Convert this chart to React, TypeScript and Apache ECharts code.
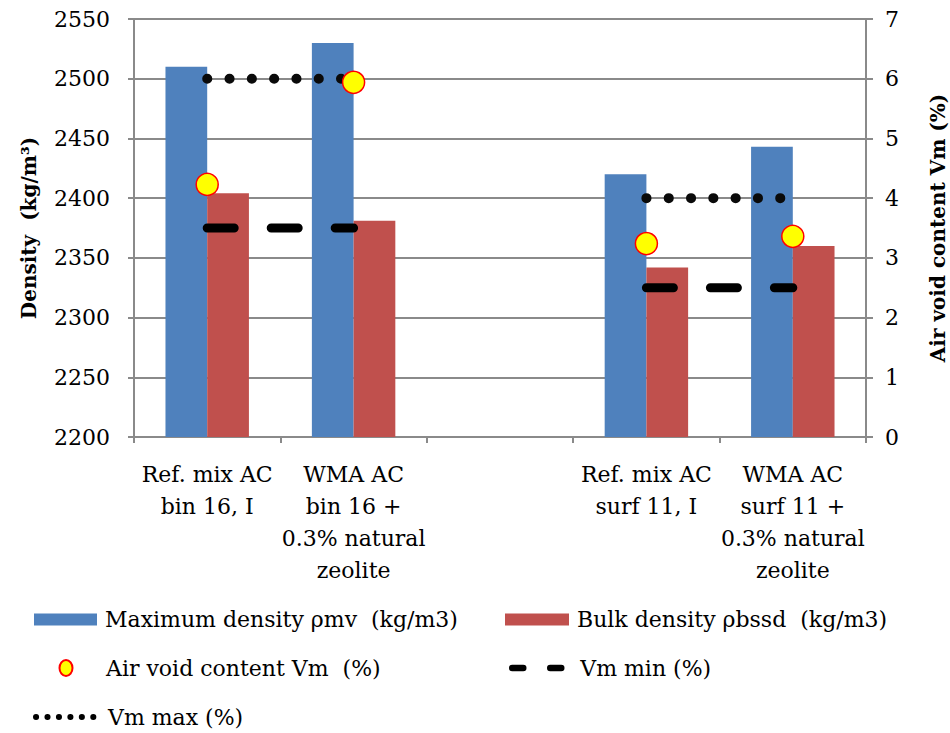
import React, { useEffect, useRef } from "react";
import * as echarts from "echarts";

// Mixes (the empty slot separates the binder-course and surface-course groups)
const categories = [
  "Ref. mix AC\nbin 16, I",
  "WMA AC\nbin 16 +\n0.3% natural\nzeolite",
  "",
  "Ref. mix AC\nsurf 11, I",
  "WMA AC\nsurf 11 +\n0.3% natural\nzeolite",
];

// Densities, kg/m3 (left axis)
const maxDensity = [2510, 2530, null, 2420, 2443];
const bulkDensity = [2404, 2381, null, 2342, 2360];

// Air void content and its limits, % (right axis)
const airVoid = [4.23, 5.94, null, 3.24, 3.36];
const vmMin = [3.5, 3.5, null, 2.5, 2.5];
const vmMax = [6, 6, null, 4, 4];

// Axis ranges
const densityMin = 2200;
const densityMax = 2550;
const densityStep = 50;
const voidMin = 0;
const voidMax = 7;
const voidStep = 1;

const names = {
  maxDensity: "Maximum density ρmv  (kg/m3)",
  bulkDensity: "Bulk density ρbssd  (kg/m3)",
  airVoid: "Air void content Vm  (%)",
  vmMin: "Vm min (%)",
  vmMax: "Vm max (%)",
};

const FONT = "'DejaVu Serif', 'Liberation Serif', serif";
const GRID_GREY = "#8a8a8a";
const BLUE = "#4F81BD";
const RED = "#C0504D";

const legendText = {
  fontFamily: FONT,
  fontSize: 22,
  color: "#000",
  lineHeight: 26,
};

// line legends show only the stroke, no marker
const hiddenMarker = { color: "rgba(0,0,0,0)", borderWidth: 0, borderColor: "rgba(0,0,0,0)" };

export default function App() {
  const ref = useRef<HTMLDivElement>(null);

  useEffect(() => {
    if (!ref.current) return;
    const chart = echarts.init(ref.current, null, { renderer: "svg" });

    const option: any = {
      animation: false,
      backgroundColor: "#fff",
      grid: { left: 134, right: 84, top: 19, bottom: 296, outerBoundsMode: "none", containLabel: false },
      xAxis: {
        type: "category",
        data: categories,
        boundaryGap: true,
        axisLine: { lineStyle: { color: GRID_GREY, width: 2 } },
        axisTick: { show: true, interval: 0, length: 6, lineStyle: { color: GRID_GREY, width: 2 } },
        axisLabel: {
          interval: 0,
          margin: 21,
          fontFamily: FONT,
          fontSize: 22,
          lineHeight: 32,
          color: "#000",
          align: "center",
        },
        splitLine: { show: false },
      },
      yAxis: [
        {
          type: "value",
          min: densityMin,
          max: densityMax,
          interval: densityStep,
          name: "Density  (kg/m³)",
          nameLocation: "middle",
          nameRotate: 90,
          nameGap: 95,
          nameTextStyle: { fontFamily: FONT, fontSize: 20, fontWeight: "bold", color: "#000" },
          axisLine: { show: true, lineStyle: { color: GRID_GREY, width: 2 } },
          axisTick: { show: true, length: 6, lineStyle: { color: GRID_GREY, width: 2 } },
          axisLabel: {
            margin: 24,
            fontFamily: FONT,
            fontSize: 22,
            color: "#000",
            formatter: (v: number) => String(v),
          },
          splitLine: { show: true, lineStyle: { color: GRID_GREY, width: 2 } },
        },
        {
          type: "value",
          min: voidMin,
          max: voidMax,
          interval: voidStep,
          position: "right",
          name: "Air void content Vm (%)",
          nameLocation: "middle",
          nameRotate: 90,
          nameGap: 62,
          nameTextStyle: { fontFamily: FONT, fontSize: 20, fontWeight: "bold", color: "#000" },
          axisLine: { show: true, lineStyle: { color: GRID_GREY, width: 2 } },
          axisTick: { show: true, length: 7, lineStyle: { color: GRID_GREY, width: 2 } },
          axisLabel: {
            margin: 19,
            fontFamily: FONT,
            fontSize: 22,
            color: "#000",
            formatter: (v: number) => String(v),
          },
          splitLine: { show: false },
        },
      ],
      legend: [
        {
          data: [names.maxDensity],
          left: 34,
          top: 606.5,
          padding: 0,
          icon: "rect",
          itemWidth: 63,
          itemHeight: 12,
          textStyle: { ...legendText, padding: [0, 0, 0, 3] },
        },
        {
          data: [names.bulkDensity],
          left: 505,
          top: 606.5,
          padding: 0,
          icon: "rect",
          itemWidth: 64,
          itemHeight: 12,
          textStyle: { ...legendText, padding: [0, 0, 0, 3] },
        },
        {
          data: [names.airVoid],
          left: 58.5,
          top: 655,
          padding: 0,
          icon: "path://M6.5,0 A6.5,8 0 1,1 6.5,16 A6.5,8 0 1,1 6.5,0 Z",
          itemWidth: 13,
          itemHeight: 16,
          textStyle: { ...legendText, padding: [0, 0, 0, 28.5] },
        },
        {
          data: [names.vmMin],
          left: 509,
          top: 655,
          padding: 0,
          itemWidth: 59,
          itemHeight: 12,
          itemStyle: hiddenMarker,
          lineStyle: { width: 6.5, type: [11, 27], cap: "round", color: "#000" },
          textStyle: { ...legendText, padding: [0, 0, 0, 4] },
        },
        {
          data: [names.vmMax],
          left: 33,
          top: 704,
          padding: 0,
          itemWidth: 60,
          itemHeight: 12,
          itemStyle: hiddenMarker,
          lineStyle: { width: 6, type: [0.1, 11.35], cap: "round", color: "#000" },
          textStyle: { ...legendText, padding: [0, 0, 0, 7] },
        },
      ],
      series: [
        {
          name: names.maxDensity,
          type: "bar",
          yAxisIndex: 0,
          data: maxDensity,
          barGap: "0%",
          barCategoryGap: "43%",
          itemStyle: { color: BLUE },
          z: 2,
        },
        {
          name: names.bulkDensity,
          type: "bar",
          yAxisIndex: 0,
          data: bulkDensity,
          barGap: "0%",
          barCategoryGap: "43%",
          itemStyle: { color: RED },
          z: 2,
        },
        {
          name: names.vmMin,
          type: "line",
          yAxisIndex: 1,
          data: vmMin,
          symbol: "none",
          connectNulls: false,
          lineStyle: { color: "#000", width: 9, type: [27, 37], cap: "round" },
          itemStyle: { color: "#000" },
          z: 3,
        },
        {
          name: names.vmMax,
          type: "line",
          yAxisIndex: 1,
          data: vmMax,
          symbol: "none",
          connectNulls: false,
          lineStyle: { color: "#0a0a0a", width: 10, type: [0.1, 22.2], cap: "round" },
          itemStyle: { color: "#0a0a0a" },
          z: 3,
        },
        {
          name: names.airVoid,
          type: "scatter",
          yAxisIndex: 1,
          data: airVoid,
          symbol: "circle",
          symbolSize: 22,
          itemStyle: { color: "#FFFF00", borderColor: "#FF0000", borderWidth: 1.5, opacity: 1 },
          z: 4,
        },
      ],
    };

    chart.setOption(option);
    return () => chart.dispose();
  }, []);

  return (
    <div
      ref={ref}
      style={{ position: "absolute", left: 0, top: 0, width: 950, height: 733, background: "#fff" }}
    />
  );
}
